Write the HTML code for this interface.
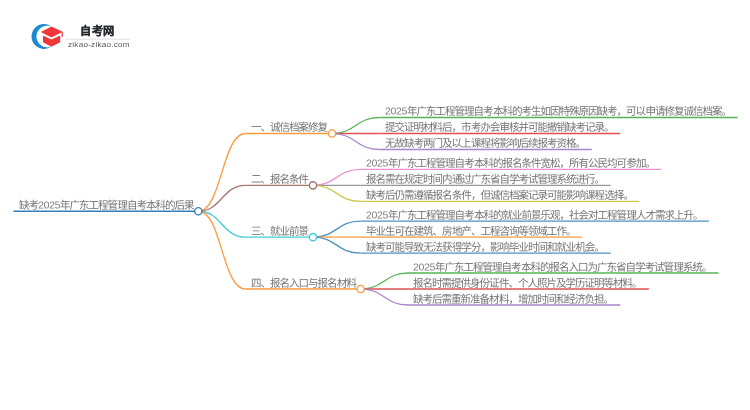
<!DOCTYPE html>
<html lang="zh-CN"><head><meta charset="utf-8"><style>
html,body{margin:0;padding:0;background:#fff;width:750px;height:410px;overflow:hidden;position:relative}
body{font-family:"Liberation Sans",sans-serif}
.t{position:absolute;font-size:21px;line-height:24px;color:#727272;white-space:nowrap;letter-spacing:-1.940px;transform:scale(0.5,0.5);transform-origin:0 0;will-change:transform}
.t .d{letter-spacing:-0.676px;color:#7e7e7e;font-size:21.00px}
svg.map path,svg.map line{fill:none;stroke-width:1.3}
</style></head><body>

<svg class="logo" width="750" height="70" viewBox="0 0 750 70" style="position:absolute;left:0;top:0">
  <path d="M51.4,26.4 A12.5,12.5 0 1 0 51.4,46.6 A10.9,10.9 0 1 1 51.4,26.4 Z" fill="#1b8ad0"/>
  <path d="M40.8,31.9 L51.4,26.6 L62.7,31.7 L51.4,37.4 Z" fill="#f0383b"/>
  <path d="M43,35.6 L51.4,39.6 L60.2,35.6 L60.2,42.2 L51.4,46.8 L43,42.2 Z" fill="#f0383b"/>
  <path d="M61.6,32.3 L62.9,31.8 L62.9,36.8 L61.6,36.8 Z" fill="#f0383b"/>
  <line x1="65.5" y1="39.2" x2="130.5" y2="39.2" stroke="#d8d8d8" stroke-width="0.8"/>
</svg>
<div style="position:absolute;left:80.0px;top:21.5px;font-size:11.2px;font-weight:bold;color:#262a30;letter-spacing:0.55px;-webkit-text-stroke:0.25px #262a30;white-space:nowrap;will-change:transform">自考网</div>
<div style="position:absolute;left:67.5px;top:40.2px;font-size:8.1px;color:#555;white-space:nowrap;letter-spacing:0.25px;will-change:transform">zikao-zikao.com</div>

<svg class="map" width="750" height="410" style="position:absolute;left:0;top:0">
<line x1="13.50" y1="211.25" x2="198.28" y2="211.25" stroke="#3580bb"/>
<path d="M198.28,211.25 C221.89,211.25 221.89,133.50 245.50,133.50" stroke="#ff993e"/>
<line x1="245.50" y1="133.50" x2="332.04" y2="133.50" stroke="#ff993e"/>
<path d="M332.04,133.50 C355.74,133.50 355.74,117.50 379.44,117.50" stroke="#56b356"/>
<line x1="379.44" y1="117.50" x2="737.56" y2="117.50" stroke="#56b356"/>
<path d="M332.04,133.50 C355.74,133.50 355.74,133.50 379.44,133.50" stroke="#de5253"/>
<line x1="379.44" y1="133.50" x2="620.26" y2="133.50" stroke="#de5253"/>
<path d="M332.04,133.50 C355.74,133.50 355.74,149.50 379.44,149.50" stroke="#a985ca"/>
<line x1="379.44" y1="149.50" x2="591.67" y2="149.50" stroke="#a985ca"/>
<path d="M198.28,211.25 C221.89,211.25 221.89,185.34 245.50,185.34" stroke="#a3786f"/>
<line x1="245.50" y1="185.34" x2="312.98" y2="185.34" stroke="#a3786f"/>
<path d="M312.98,185.34 C336.68,185.34 336.68,169.34 360.38,169.34" stroke="#e992ce"/>
<line x1="360.38" y1="169.34" x2="661.32" y2="169.34" stroke="#e992ce"/>
<path d="M312.98,185.34 C336.68,185.34 336.68,185.34 360.38,185.34" stroke="#999999"/>
<line x1="360.38" y1="185.34" x2="610.73" y2="185.34" stroke="#999999"/>
<path d="M312.98,185.34 C336.68,185.34 336.68,201.34 360.38,201.34" stroke="#c9ca4e"/>
<line x1="360.38" y1="201.34" x2="639.32" y2="201.34" stroke="#c9ca4e"/>
<path d="M198.28,211.25 C221.89,211.25 221.89,237.16 245.50,237.16" stroke="#45cbd9"/>
<line x1="245.50" y1="237.16" x2="312.98" y2="237.16" stroke="#45cbd9"/>
<path d="M312.98,237.16 C336.68,237.16 336.68,221.16 360.38,221.16" stroke="#4c92c3"/>
<line x1="360.38" y1="221.16" x2="708.97" y2="221.16" stroke="#4c92c3"/>
<path d="M312.98,237.16 C336.68,237.16 336.68,237.16 360.38,237.16" stroke="#ff993e"/>
<line x1="360.38" y1="237.16" x2="582.14" y2="237.16" stroke="#ff993e"/>
<path d="M312.98,237.16 C336.68,237.16 336.68,253.16 360.38,253.16" stroke="#4c92c3"/>
<line x1="360.38" y1="253.16" x2="610.73" y2="253.16" stroke="#4c92c3"/>
<path d="M198.28,211.25 C221.89,211.25 221.89,289.00 245.50,289.00" stroke="#ff993e"/>
<line x1="245.50" y1="289.00" x2="360.63" y2="289.00" stroke="#ff993e"/>
<path d="M360.63,289.00 C384.33,289.00 384.33,273.00 408.03,273.00" stroke="#56b356"/>
<line x1="408.03" y1="273.00" x2="718.50" y2="273.00" stroke="#56b356"/>
<path d="M360.63,289.00 C384.33,289.00 384.33,289.00 408.03,289.00" stroke="#de5253"/>
<line x1="408.03" y1="289.00" x2="648.85" y2="289.00" stroke="#de5253"/>
<path d="M360.63,289.00 C384.33,289.00 384.33,305.00 408.03,305.00" stroke="#a985ca"/>
<line x1="408.03" y1="305.00" x2="620.26" y2="305.00" stroke="#a985ca"/>
<circle cx="198.28" cy="211.25" r="3.6" fill="#fff" stroke="#3580bb" stroke-width="1.4"/>
<circle cx="332.04" cy="133.50" r="3.6" fill="#fff" stroke="#ff993e" stroke-width="1.4"/>
<circle cx="312.98" cy="185.34" r="3.6" fill="#fff" stroke="#a3786f" stroke-width="1.4"/>
<circle cx="312.98" cy="237.16" r="3.6" fill="#fff" stroke="#45cbd9" stroke-width="1.4"/>
<circle cx="360.63" cy="289.00" r="3.6" fill="#fff" stroke="#ff993e" stroke-width="1.4"/>
</svg>
<div class="t" style="left:18.80px;top:199.05px">缺考<span class="d">2025</span>年广东工程管理自考本科的后果</div>
<div class="t" style="left:250.80px;top:121.30px">一、诚信档案修复</div>
<div class="t" style="left:384.74px;top:105.30px"><span class="d">2025</span>年广东工程管理自考本科的考生如因特殊原因缺考，可以申请修复诚信档案。</div>
<div class="t" style="left:384.74px;top:121.30px">提交证明材料后，市考办会审核并可能撤销缺考记录。</div>
<div class="t" style="left:384.74px;top:137.31px">无故缺考两门及以上课程将影响后续报考资格。</div>
<div class="t" style="left:250.80px;top:173.14px">二、报名条件</div>
<div class="t" style="left:365.68px;top:157.14px"><span class="d">2025</span>年广东工程管理自考本科的报名条件宽松，所有公民均可参加。</div>
<div class="t" style="left:365.68px;top:173.14px">报名需在规定时间内通过广东省自学考试管理系统进行。</div>
<div class="t" style="left:365.68px;top:189.14px">缺考后仍需遵循报名条件，但诚信档案记录可能影响课程选择。</div>
<div class="t" style="left:250.80px;top:224.97px">三、就业前景</div>
<div class="t" style="left:365.68px;top:208.97px"><span class="d">2025</span>年广东工程管理自考本科的就业前景乐观，社会对工程管理人才需求上升。</div>
<div class="t" style="left:365.68px;top:224.97px">毕业生可在建筑、房地产、工程咨询等领域工作。</div>
<div class="t" style="left:365.68px;top:240.97px">缺考可能导致无法获得学分，影响毕业时间和就业机会。</div>
<div class="t" style="left:250.80px;top:276.80px">四、报名入口与报名材料</div>
<div class="t" style="left:413.33px;top:260.80px"><span class="d">2025</span>年广东工程管理自考本科的报名入口为广东省自学考试管理系统。</div>
<div class="t" style="left:413.33px;top:276.80px">报名时需提供身份证件、个人照片及学历证明等材料。</div>
<div class="t" style="left:413.33px;top:292.80px">缺考后需重新准备材料，增加时间和经济负担。</div>
</body></html>
